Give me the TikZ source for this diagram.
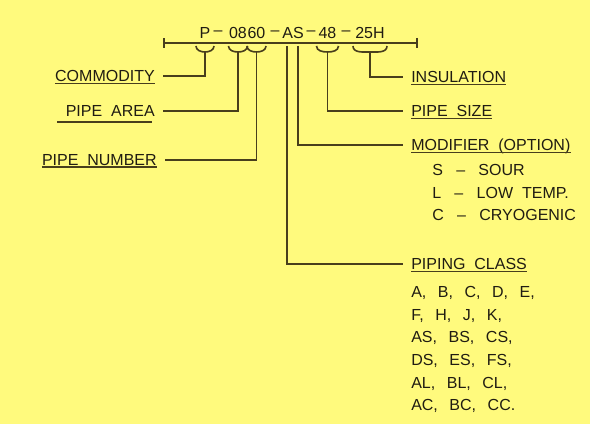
\documentclass[tikz,border=0pt]{standalone}
\usepackage{fontspec}
\setmainfont{Liberation Sans}
\usetikzlibrary{arrows.meta}
\definecolor{paper}{RGB}{255,250,125}
\definecolor{ink}{RGB}{32,28,18}
\definecolor{wireclr}{RGB}{72,62,28}

\begin{document}
\begin{tikzpicture}[x=0.75pt,y=0.75pt,
    wire/.style={draw=wireclr,line width=1.2pt},
    lead/.style={wire,shorten >=6pt},
    code/.style={inner sep=0pt,text=ink,font=\fontsize{12}{14}\selectfont},
    tag/.style={inner xsep=0pt,inner ysep=1pt,text depth=0pt,text=ink,font=\fontsize{12}{14}\selectfont},
    list/.style={inner sep=0pt,align=left,text=ink,anchor=north west,font=\fontsize{12}{17}\selectfont}]
  \fill[paper] (0,0) rectangle (590,424);

  % line number
  \draw[wire,{Bar[width=7.5pt]}-{Bar[width=7.5pt]}] (163,381) -- (418,381);
  \foreach \n/\x/\t in {p/205/P, d1/218/–, n08/238/08, n60/256.5/60, d2/275/–,
      as/293/AS, d3/311/–, n48/327.5/48, d4/346/–, n25h/370/25H}
    \node[code] (\n) at (\x,391) {\t};
  \foreach \n/\w in {p/9, n08/9.5, n60/9.5, n48/11, n25h/17}
    \draw[wire] (\n |- 0,378) ++(-\w,0) to[out=-90,in=180] (\n |- 0,372) to[out=0,in=-90] ++(\w,6);
  \coordinate (asa) at (287,378);
  \coordinate (ass) at (298,378);

  % left labels
  \node[tag,anchor=east] (com) at (155,348) {COMMODITY};
  \node[tag,anchor=east] (area) at (155,313) {PIPE~~AREA};
  \node[tag,anchor=east] (num) at (157,264) {PIPE~~NUMBER};
  \draw[wire,line width=1pt] (57,302) -- (152,302);

  % right labels
  \node[tag,anchor=west] (ins) at (411,347) {INSULATION};
  \node[tag,anchor=west] (size) at (411,313) {PIPE~~SIZE};
  \node[tag,anchor=west] (mod) at (411,279) {MODIFIER~~(OPTION)};
  \node[list] (opts) at (432,260) {S~~~–~~~SOUR\\L~~~–~~~LOW~~TEMP.\\C~~~–~~~CRYOGENIC};
  \node[tag,anchor=west] (cls) at (411,160) {PIPING~~CLASS};
  \node[list] (classes) at (411,138) {A,~~\,B,~~\,C,~~\,D,~~\,E,\\F,~~\,H,~~\,J,~~\,K,\\
    AS,~~\,BS,~~\,CS,\\DS,~~\,ES,~~\,FS,\\AL,~~\,BL,~~\,CL,\\AC,~~\,BC,~~\,CC.};

  \foreach \n in {com,num,ins,size,mod,cls}
    \draw[wire,line width=1pt] (\n.south west) -- (\n.south east);

  % leaders
  \draw[lead] (p |- 0,372) |- (com);
  \draw[lead] (n08 |- 0,372) |- (area);
  \draw[lead] (n60 |- 0,372) |- (num);
  \draw[lead] (ass) |- (mod);
  \draw[lead] (asa) |- (cls);
  \draw[lead] (n48 |- 0,372) |- (size);
  \draw[lead] (n25h |- 0,372) |- (ins);
\end{tikzpicture}
\end{document}
